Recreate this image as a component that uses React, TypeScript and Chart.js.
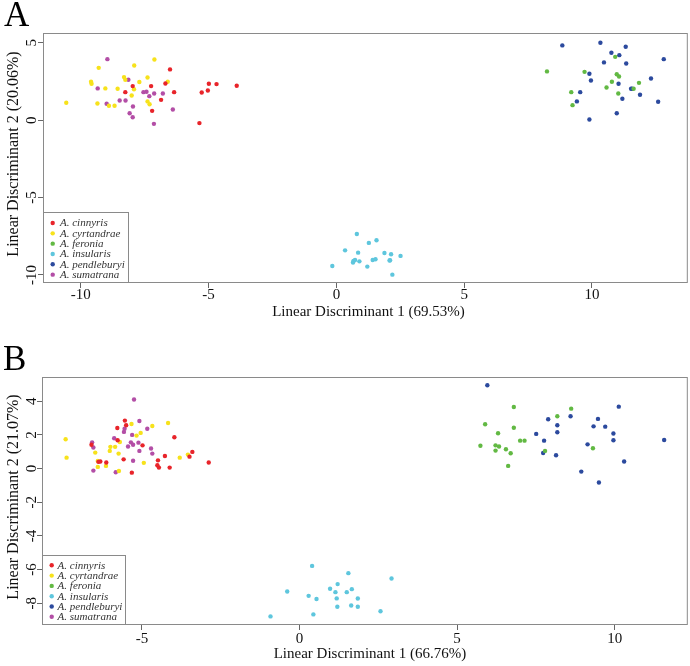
import React, { useEffect, useRef } from "react";
import { Chart, registerables } from "chart.js";

Chart.register(...registerables);

// ---------- Data ----------
const speciesNames = ["A. cinnyris", "A. cyrtandrae", "A. feronia", "A. insularis", "A. pendleburyi", "A. sumatrana"];
const speciesColors = ["#e8242a", "#f7e21b", "#62b943", "#5ec6dd", "#2c4a9e", "#b34ea6"];

// Panel A
const A_cinnyris = [[-6.51, 3.28], [-6.69, 2.37], [-7.25, 2.2], [-7.97, 2.2], [-8.26, 1.81], [-6.35, 1.81], [-6.86, 1.31], [-7.21, 0.6], [-5.27, 1.79], [-5.03, 1.92], [-4.99, 2.35], [-4.69, 2.33], [-3.9, 2.22], [-5.36, -0.19]];
const A_cyrtandrae = [[-10.57, 1.12], [-9.6, 2.48], [-9.58, 2.35], [-9.3, 3.38], [-9.04, 2.05], [-9.35, 1.08], [-8.9, 0.93], [-8.68, 0.93], [-8.56, 2.03], [-8.31, 2.78], [-8.26, 2.61], [-7.91, 3.53], [-7.92, 2.0], [-8.01, 1.59], [-7.71, 2.46], [-7.39, 2.76], [-7.12, 3.92], [-6.6, 2.48], [-7.39, 1.21], [-7.31, 1.03]];
const A_feronia = [[8.24, 3.15], [9.71, 3.12], [10.91, 4.09], [10.97, 2.97], [11.06, 2.82], [10.78, 2.48], [10.57, 2.11], [11.84, 2.41], [11.63, 2.03], [11.03, 1.72], [9.19, 1.81], [9.24, 0.97]];
const A_insularis = [[-0.16, -9.42], [0.34, -8.41], [0.8, -7.35], [0.85, -8.56], [0.67, -9.09], [0.65, -9.2], [0.73, -9.03], [0.9, -9.12], [1.27, -7.93], [1.57, -7.76], [1.21, -9.46], [1.42, -9.03], [1.53, -8.99], [1.88, -8.58], [2.14, -8.66], [2.08, -9.07], [2.1, -9.05], [2.51, -8.77], [2.19, -9.98]];
const A_pendleburyi = [[8.84, 4.83], [10.33, 5.0], [10.76, 4.35], [11.07, 4.2], [11.32, 4.74], [10.47, 3.73], [11.34, 3.66], [12.81, 3.94], [9.9, 3.0], [9.96, 2.56], [11.04, 2.35], [12.31, 2.69], [9.54, 1.81], [9.41, 1.21], [11.53, 2.03], [11.57, 2.03], [11.88, 1.64], [11.19, 1.38], [12.59, 1.19], [10.97, 0.45], [9.9, 0.04]];
const A_sumatrana = [[-8.96, 3.94], [-9.34, 2.05], [-8.99, 1.06], [-8.14, 2.61], [-8.25, 1.27], [-8.48, 1.27], [-7.96, 0.88], [-8.09, 0.45], [-7.97, 0.19], [-7.55, 1.81], [-7.43, 1.83], [-7.32, 1.55], [-7.13, 1.72], [-6.79, 1.72], [-6.4, 0.69], [-7.14, -0.24]];

// Panel B
const B_cinnyris = [[-5.54, 2.85], [-5.5, 2.57], [-5.78, 2.41], [-5.77, 1.68], [-3.97, 1.86], [-4.98, 1.38], [-6.6, 1.42], [-6.32, 0.42], [-6.38, 0.4], [-6.13, 0.36], [-5.58, 0.55], [-5.32, -0.24], [-4.49, 0.49], [-4.27, 0.75], [-4.51, 0.2], [-4.46, 0.06], [-4.12, 0.06], [-3.49, 0.71], [-3.4, 0.99], [-2.88, 0.36]];
const B_cyrtandrae = [[-7.42, 1.74], [-7.39, 0.65], [-6.48, 0.95], [-6.4, 0.45], [-6.4, 0.1], [-6.14, 0.16], [-6.02, 1.05], [-6.0, 1.29], [-5.85, 1.29], [-5.7, 1.58], [-5.74, 0.89], [-5.73, -0.14], [-5.33, 2.65], [-5.17, 1.96], [-5.04, 2.12], [-4.67, 2.53], [-4.17, 2.71], [-4.94, 0.34], [-3.8, 0.65], [-3.54, 0.83]];
const B_feronia = [[6.8, 3.66], [8.62, 3.56], [8.18, 3.11], [5.89, 2.63], [6.8, 2.43], [6.3, 2.1], [7.0, 1.66], [7.14, 1.66], [5.74, 1.36], [6.22, 1.38], [6.33, 1.31], [6.22, 1.07], [6.55, 1.15], [6.7, 0.91], [6.62, 0.16], [7.79, 1.05], [9.31, 1.21]];
const B_insularis = [[0.4, -5.78], [-0.39, -7.3], [0.29, -7.56], [0.54, -7.75], [0.97, -7.14], [1.21, -6.86], [1.14, -7.34], [1.18, -7.71], [1.2, -8.21], [0.44, -8.66], [-0.92, -8.78], [1.55, -6.21], [1.5, -7.34], [1.66, -7.16], [1.85, -7.72], [1.64, -8.13], [1.85, -8.21], [2.57, -8.47], [2.92, -6.53]];
const B_pendleburyi = [[5.96, 4.95], [7.89, 2.93], [8.18, 2.57], [8.18, 2.16], [7.51, 2.06], [7.76, 1.66], [7.73, 0.93], [8.14, 0.79], [8.6, 3.11], [10.13, 3.68], [9.47, 2.95], [9.33, 2.51], [9.7, 2.49], [9.96, 2.08], [9.96, 1.68], [9.14, 1.44], [8.94, -0.18], [9.5, -0.83], [10.3, 0.42], [11.57, 1.7]];
const B_sumatrana = [[-5.25, 4.1], [-5.08, 2.83], [-4.83, 2.37], [-5.55, 2.37], [-5.57, 2.18], [-5.88, 1.8], [-5.31, 2.0], [-5.35, 1.56], [-5.28, 1.42], [-5.11, 1.54], [-5.44, 1.31], [-4.71, 1.19], [-4.67, 0.89], [-5.08, 1.05], [-6.58, 1.56], [-6.54, 1.25], [-5.28, 0.47], [-6.54, -0.12], [-5.83, -0.22]];

// Tick values and titles
const xTicksA = [-10, -5, 0, 5, 10];
const yTicksA = [-10, -5, 0, 5];
const xTicksB = [-5, 0, 5, 10];
const yTicksB = [-8, -6, -4, -2, 0, 2, 4];
const xTitleA = "Linear Discriminant 1 (69.53%)";
const yTitleA = "Linear Discriminant 2 (20.06%)";
const xTitleB = "Linear Discriminant 1 (66.76%)";
const yTitleB = "Linear Discriminant 2 (21.07%)";

const SERIF = '"Liberation Serif", "Times New Roman", serif';

const rPlotPlugin = {
  id: "rplot",
  afterDraw(chart: any) {
    const o = chart.options.plugins.rplot;
    const { ctx, chartArea: ca, scales } = chart;
    ctx.save();
    // plot box
    ctx.strokeStyle = "#8a8a8a";
    ctx.lineWidth = 1;
    ctx.strokeRect(ca.left + 0.5, ca.top + 0.5, ca.right - ca.left - 1, ca.bottom - ca.top - 1);

    ctx.fillStyle = "#111";
    // x tick labels
    ctx.font = `15px ${SERIF}`;
    ctx.textAlign = "center";
    ctx.textBaseline = "middle";
    scales.x.ticks.forEach((t: any) => {
      ctx.fillText(String(t.value), scales.x.getPixelForValue(t.value), o.xTickY);
    });
    // y tick labels (rotated like R)
    scales.y.ticks.forEach((t: any) => {
      const py = scales.y.getPixelForValue(t.value);
      ctx.save();
      ctx.translate(o.yTickX, py);
      ctx.rotate(-Math.PI / 2);
      ctx.fillText(String(t.value), 0, 0);
      ctx.restore();
    });
    // x title
    ctx.font = `15px ${SERIF}`;
    ctx.fillText(o.xTitle, (ca.left + ca.right) / 2 + o.xTitleDX, o.xTitleY);
    // y title
    ctx.save();
    ctx.font = `16px ${SERIF}`;
    ctx.translate(o.yTitleX, (ca.top + ca.bottom) / 2 + o.yTitleDY);
    ctx.rotate(-Math.PI / 2);
    ctx.fillText(o.yTitle, 0, 0);
    ctx.restore();

    // panel letter
    ctx.font = `35px ${SERIF}`;
    ctx.textAlign = "left";
    ctx.textBaseline = "alphabetic";
    ctx.fillStyle = "#000";
    ctx.fillText(o.letter, o.letterX, o.letterY);

    // legend
    const lx = ca.left;
    const ly = ca.bottom - o.legH;
    ctx.fillStyle = "#fff";
    ctx.fillRect(lx, ly, o.legW, o.legH);
    ctx.strokeStyle = "#8a8a8a";
    ctx.strokeRect(lx + 0.5, ly + 0.5, o.legW, o.legH - 1);
    ctx.font = `italic 11px ${SERIF}`;
    ctx.textBaseline = "middle";
    chart.data.datasets.forEach((ds: any, i: number) => {
      const yy = ca.bottom - o.legFirst + i * o.legStep;
      ctx.fillStyle = ds.backgroundColor;
      ctx.beginPath();
      ctx.arc(lx + o.legDot, yy, 2.2, 0, Math.PI * 2);
      ctx.fill();
      ctx.fillStyle = "#333";
      ctx.fillText(ds.label, lx + o.legText, yy + 0.5);
    });
    ctx.restore();
  },
};

function makeDatasets(groups: number[][][]) {
  return groups.map((g, i) => ({
    label: speciesNames[i],
    data: g.map(([x, y]) => ({ x, y })),
    backgroundColor: speciesColors[i],
    borderWidth: 0,
    pointRadius: 2.2,
    pointHoverRadius: 2.2,
  }));
}

function scaleOpts(min: number, max: number, ticks: number[], fit: (s: any) => void) {
  return {
    type: "linear" as const,
    min,
    max,
    afterBuildTicks: (s: any) => {
      s.ticks = ticks.map((v) => ({ value: v }));
    },
    afterFit: fit,
    ticks: { display: false },
    grid: { display: true, drawOnChartArea: false, drawTicks: true, tickLength: 5, color: "#666", lineWidth: 1 },
    border: { display: false },
  };
}

function Panel(props: any) {
  const ref = useRef<HTMLCanvasElement>(null);
  useEffect(() => {
    const p = props.cfg;
    const chart = new Chart(ref.current!, {
      type: "scatter",
      data: { datasets: makeDatasets(p.groups) as any },
      options: {
        animation: false,
        responsive: false,
        maintainAspectRatio: false,
        layout: { padding: { top: p.padTop, right: p.padRight, left: 0, bottom: 0 } },
        scales: {
          x: scaleOpts(p.xMin, p.xMax, p.xTicks, (s: any) => { s.height = p.xHeight; }),
          y: scaleOpts(p.yMin, p.yMax, p.yTicks, (s: any) => { s.width = p.yWidth; }),
        },
        plugins: {
          legend: { display: false },
          tooltip: { enabled: false },
          rplot: p.text,
        } as any,
      },
      plugins: [rPlotPlugin as any],
    });
    return () => chart.destroy();
  }, []);
  return (
    <canvas
      ref={ref}
      width={690}
      height={props.cfg.h}
      style={{ position: "absolute", left: 0, top: props.cfg.top, width: 690, height: props.cfg.h }}
    />
  );
}

const cfgA = {
  top: 0,
  h: 330,
  groups: [A_cinnyris, A_cyrtandrae, A_feronia, A_insularis, A_pendleburyi, A_sumatrana],
  xMin: -11.48, xMax: 13.75, yMin: -10.52, yMax: 5.63,
  xTicks: xTicksA, yTicks: yTicksA,
  padTop: 33, padRight: 1, xHeight: 47, yWidth: 43,
  text: {
    letter: "A", letterX: 4, letterY: 26,
    xTitle: xTitleA, yTitle: yTitleA,
    xTickY: 295, xTitleY: 312, xTitleDX: 3,
    yTickX: 32, yTitleX: 14, yTitleDY: -4,
    legW: 85, legH: 71, legFirst: 60, legStep: 10.33, legDot: 9.7, legText: 17,
  },
};

const cfgB = {
  top: 330,
  h: 336,
  groups: [B_cinnyris, B_cyrtandrae, B_feronia, B_insularis, B_pendleburyi, B_sumatrana],
  xMin: -8.17, xMax: 12.32, yMin: -9.29, yMax: 5.44,
  xTicks: xTicksB, yTicks: yTicksB,
  padTop: 47, padRight: 2, xHeight: 41, yWidth: 42,
  text: {
    letter: "B", letterX: 3, letterY: 40,
    xTitle: xTitleB, yTitle: yTitleB,
    xTickY: 308.7, xTitleY: 323.7, xTitleDX: 5,
    yTickX: 32, yTitleX: 14, yTitleDY: -4,
    legW: 83, legH: 70, legFirst: 59.7, legStep: 10.3, legDot: 9.7, legText: 15.6,
  },
};

export default function App() {
  return (
    <div style={{ position: "fixed", left: 0, top: 0, width: 690, height: 666, background: "#fff" }}>
      <Panel cfg={cfgA} />
      <Panel cfg={cfgB} />
    </div>
  );
}
